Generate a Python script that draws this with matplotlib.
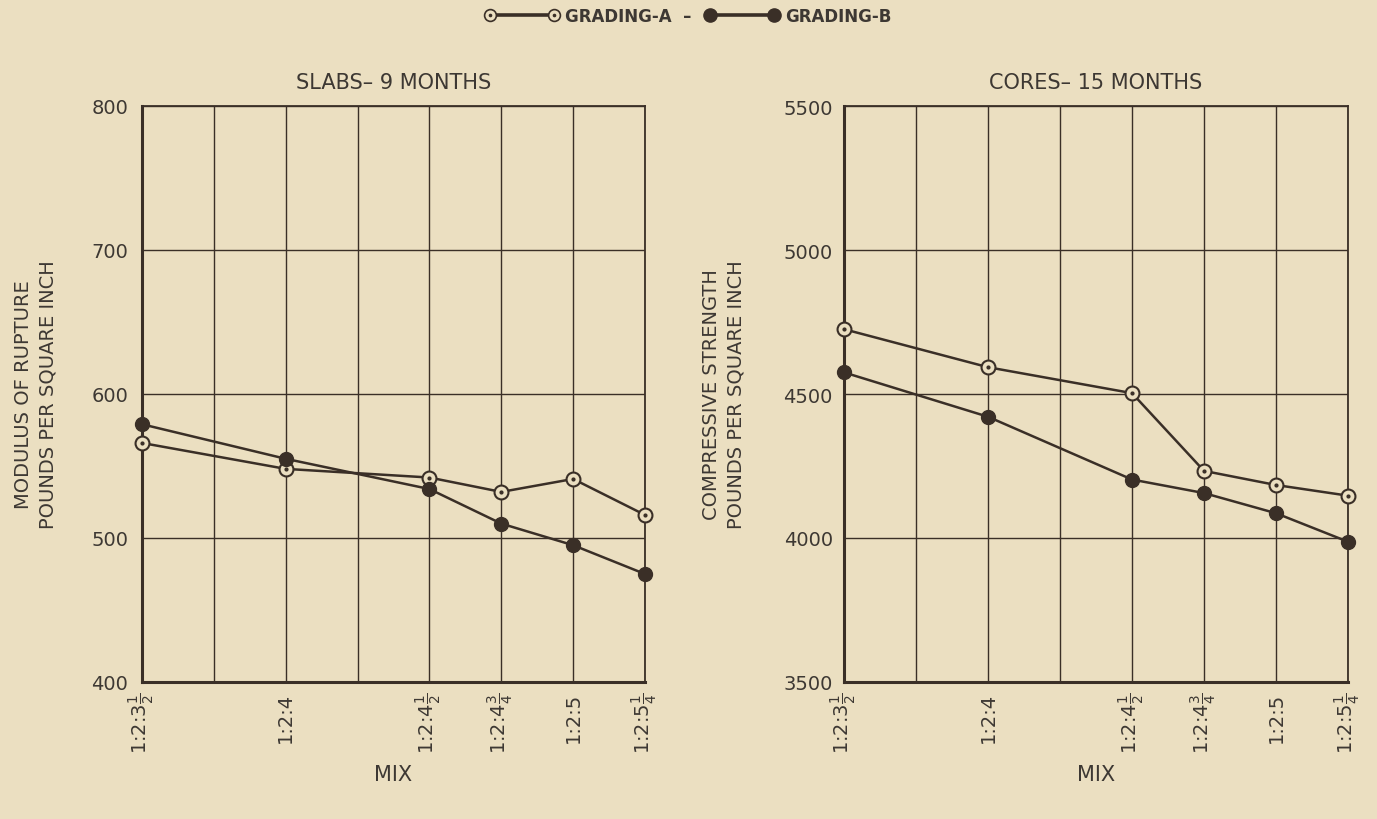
import matplotlib
matplotlib.use("Agg")
import matplotlib.pyplot as plt
from matplotlib.lines import Line2D
from matplotlib.legend_handler import HandlerTuple
import numpy as np

# ---- data ----
mix_parts = [3.5, 4.0, 4.5, 4.75, 5.0, 5.25]
mix_labels = [r"1:2:3$\frac{1}{2}$", "1:2:4", r"1:2:4$\frac{1}{2}$",
              r"1:2:4$\frac{3}{4}$", "1:2:5", r"1:2:5$\frac{1}{4}$"]

slabs_a = [566, 548, 542, 532, 541, 516]
slabs_b = [579, 555, 534, 510, 495, 475]

cores_a = [4725, 4593, 4503, 4233, 4184, 4147]
cores_b = [4575, 4421, 4203, 4156, 4086, 3987]

slabs_yticks = [400, 500, 600, 700, 800]
cores_yticks = [3500, 4000, 4500, 5000, 5500]

titles = ["SLABS\u2013 9 MONTHS", "CORES\u2013 15 MONTHS"]
ylabels = ["MODULUS OF RUPTURE\nPOUNDS PER SQUARE INCH",
           "COMPRESSIVE STRENGTH\nPOUNDS PER SQUARE INCH"]
legend_labels = ["GRADING-A  \u2013", "GRADING-B"]

# ---- style ----
BG = "#ebdfc1"
INK = "#3a2f27"
TXT = "#3d3833"
plt.rcParams["mathtext.fontset"] = "dejavusans"
plt.rcParams["font.family"] = ["DejaVu Sans"]

fig = plt.figure(figsize=(13.77, 8.20), dpi=100, facecolor=BG)

W, H = 1377, 820
def axrect(x0, x1, y0, y1):
    return [x0 / W, 1 - y1 / H, (x1 - x0) / W, (y1 - y0) / H]

ax1 = fig.add_axes(axrect(142, 645, 107, 683))
ax2 = fig.add_axes(axrect(844, 1348, 107, 683))

grid_x = np.arange(3.5, 5.25 + 0.01, 0.25)

def style_axis(ax, a, b, yticks, title, ylabel, ylab_off, tick_pad):
    ax.set_facecolor(BG)
    for gx in grid_x:
        ax.axvline(gx, color=INK, lw=1.0, zorder=1)
    for gy in yticks:
        ax.axhline(gy, color=INK, lw=1.0, zorder=1)
    # Grading A: open circle with centre dot
    ax.plot(mix_parts, a, color=INK, lw=1.8, marker="o", ms=10,
            mfc=BG, mec=INK, mew=1.5, zorder=3, clip_on=False)
    ax.plot(mix_parts, a, ls="none", marker="o", ms=2.0, mfc=INK,
            mec=INK, zorder=4, clip_on=False)
    # Grading B: filled circle
    ax.plot(mix_parts, b, color=INK, lw=1.8, marker="o", ms=10,
            mfc=INK, mec=INK, zorder=3, clip_on=False)
    ax.set_xlim(3.5, 5.25)
    ax.set_ylim(yticks[0], yticks[-1])
    ax.set_yticks(yticks)
    ax.set_xticks(mix_parts)
    ax.set_xticklabels(mix_labels, rotation=90, fontsize=14, color=TXT)
    ax.tick_params(axis="y", length=0, pad=tick_pad, labelsize=14,
                   labelcolor=TXT)
    ax.tick_params(axis="x", length=0, pad=7)
    for s in ["left", "bottom"]:
        ax.spines[s].set_linewidth(2.2)
        ax.spines[s].set_color(INK)
    for s in ["top", "right"]:
        ax.spines[s].set_linewidth(1.3)
        ax.spines[s].set_color(INK)
    ax.set_title(title, fontsize=15, color=TXT, pad=13)
    ax.set_xlabel("MIX", fontsize=15, color=TXT, labelpad=8)
    ax.text(ylab_off, 0.5, ylabel, transform=ax.transAxes, rotation=90,
            ha="center", va="center", fontsize=14, color=TXT,
            linespacing=1.35, multialignment="center")

style_axis(ax1, slabs_a, slabs_b, slabs_yticks, titles[0], ylabels[0],
           -106 / 503, 10)
style_axis(ax2, cores_a, cores_b, cores_yticks, titles[1], ylabels[1],
           -120 / 504, 8)

# ---- legend ----
ha_line = Line2D([], [], color=INK, lw=2.6, marker="o", ms=8.5, mfc=BG,
                 mec=INK, mew=1.2)
ha_dot = Line2D([], [], ls="none", marker="o", ms=1.6, mfc=INK, mec=INK)
hb_line = Line2D([], [], color=INK, lw=2.6, marker="o", ms=9.5, mfc=INK,
                 mec=INK)
leg = fig.legend([(ha_line, ha_dot), hb_line], legend_labels,
                 handler_map={tuple: HandlerTuple(ndivide=1, pad=0)},
                 loc="center", bbox_to_anchor=(0.5, 1 - 17 / H), ncol=2,
                 frameon=False, numpoints=2, handlelength=4.4,
                 handletextpad=0.4, columnspacing=0.8,
                 prop={"size": 12, "weight": "bold"})
for t in leg.get_texts():
    t.set_color(TXT)

fig.savefig("out.png", dpi=100, facecolor=BG)
